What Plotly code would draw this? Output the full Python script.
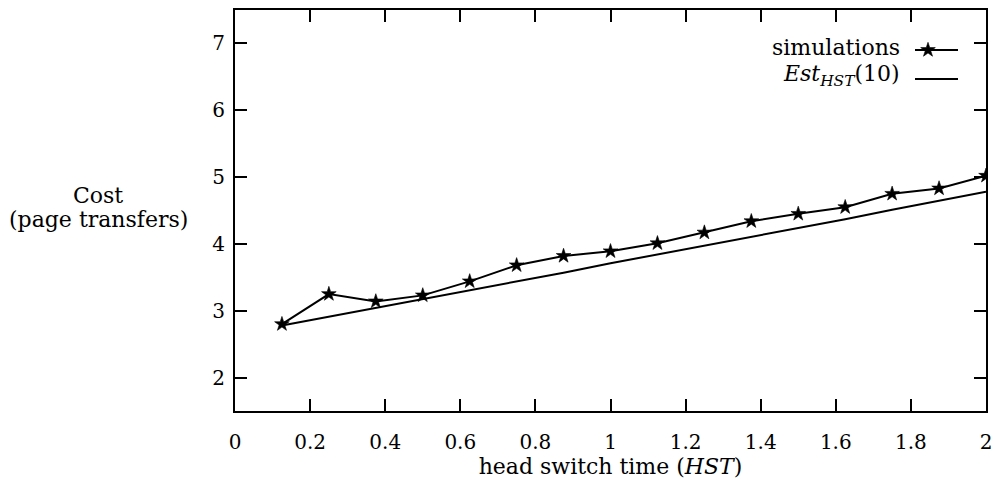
import plotly.graph_objects as go

# ---- data ----
hst = [0.125, 0.25, 0.375, 0.5, 0.625, 0.75, 0.875, 1.0,
       1.125, 1.25, 1.375, 1.5, 1.625, 1.75, 1.875, 2.0]
simulations = [2.80, 3.25, 3.14, 3.23, 3.44, 3.68, 3.82, 3.89,
               4.01, 4.17, 4.34, 4.45, 4.55, 4.75, 4.83, 5.02]
estimate = [2.78, 2.91, 3.04, 3.18, 3.31, 3.44, 3.57, 3.71,
            3.84, 3.97, 4.11, 4.24, 4.37, 4.51, 4.64, 4.78]
x_ticks = [0, 0.2, 0.4, 0.6, 0.8, 1, 1.2, 1.4, 1.6, 1.8, 2]
x_tick_labels = ["0", "0.2", "0.4", "0.6", "0.8", "1", "1.2", "1.4", "1.6", "1.8", "2"]
y_ticks = [2, 3, 4, 5, 6, 7]
y_tick_labels = ["2", "3", "4", "5", "6", "7"]
legend_names = ["simulations", "<i>Est</i><sub><i>HST</i></sub>(10)"]

FONT = "DejaVu Serif"
L, R, T, B = 235, 9, 10, 73
W, H = 995, 484
pw, ph = W - L - R, H - T - B


def px(x):
    return (x - L) / pw


def py(y):
    return (H - B - y) / ph


STAR = dict(symbol="star", size=11, color="black", line=dict(width=0.6, color="black"))

fig = go.Figure()
fig.add_trace(go.Scatter(
    x=hst, y=simulations, mode="lines+markers", name=legend_names[0],
    line=dict(color="black", width=2), marker=STAR, showlegend=False,
))
fig.add_trace(go.Scatter(
    x=hst, y=estimate, mode="lines", name="Est",
    line=dict(color="black", width=2), showlegend=False,
))

# legend samples on an overlay axis in plot-fraction units
fig.add_trace(go.Scatter(
    x=[px(915), px(958)], y=[py(50), py(50)], mode="lines",
    line=dict(color="black", width=2), xaxis="x2", yaxis="y2",
    showlegend=False, hoverinfo="skip"))
fig.add_trace(go.Scatter(
    x=[px(928)], y=[py(50)], mode="markers", marker=STAR,
    xaxis="x2", yaxis="y2", showlegend=False, hoverinfo="skip"))
fig.add_trace(go.Scatter(
    x=[px(915), px(958)], y=[py(79), py(79)], mode="lines",
    line=dict(color="black", width=2), xaxis="x2", yaxis="y2",
    showlegend=False, hoverinfo="skip"))

fig.add_annotation(text=legend_names[0], x=px(902), y=py(48), xref="paper", yref="paper",
                   xanchor="right", yanchor="middle", showarrow=False,
                   font=dict(family=FONT, size=22, color="black"))
fig.add_annotation(text=legend_names[1], x=px(902), y=py(76), xref="paper", yref="paper",
                   xanchor="right", yanchor="middle", showarrow=False,
                   font=dict(family=FONT, size=22, color="black"))

# y-axis title (horizontal, two lines)
fig.add_annotation(text="Cost", x=px(98), y=py(195), xref="paper", yref="paper",
                   xanchor="center", yanchor="middle", showarrow=False,
                   font=dict(family=FONT, size=22, color="black"))
fig.add_annotation(text="(page transfers)", x=px(98), y=py(219), xref="paper", yref="paper",
                   xanchor="center", yanchor="middle", showarrow=False,
                   font=dict(family=FONT, size=22, color="black"))

axis_common = dict(
    showgrid=False, zeroline=False, showline=True, linecolor="black", linewidth=2,
    mirror="ticks", ticks="inside", ticklen=12, tickwidth=2, tickcolor="black",
    tickfont=dict(family=FONT, size=20, color="black"), automargin=False,
)

fig.update_layout(
    width=W, height=H,
    margin=dict(l=L, r=R, t=T, b=B),
    paper_bgcolor="white", plot_bgcolor="white",
    xaxis=dict(range=[0, 2], tickvals=x_ticks, ticktext=x_tick_labels,
               ticklabelstandoff=12,
               title=dict(text="head switch time (<i>HST</i>)", standoff=4,
                          font=dict(family=FONT, size=22, color="black")),
               **axis_common),
    yaxis=dict(range=[1.5, 7.5], tickvals=y_ticks, ticktext=y_tick_labels,
               ticklabelstandoff=4, **axis_common),
    xaxis2=dict(range=[0, 1], overlaying="x", visible=False, fixedrange=True),
    yaxis2=dict(range=[0, 1], overlaying="y", visible=False, fixedrange=True),
    showlegend=False,
)

fig.write_html("out.html")
